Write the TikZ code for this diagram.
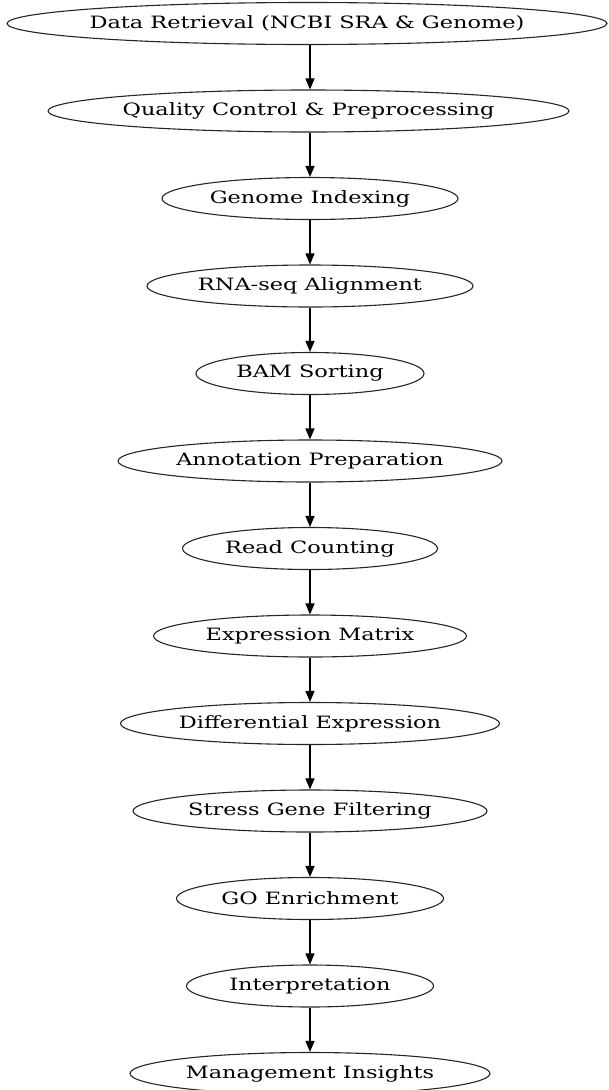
\documentclass[tikz,border=0pt]{standalone}
\usepackage{fontspec}
\setmainfont[FakeStretch=1.32]{DejaVu Serif}
\usetikzlibrary{shapes.geometric,arrows.meta}
\newcommand{\zlbl}[1]{\makebox[0pt]{#1}}
\begin{document}
\begin{tikzpicture}[x=1pt,y=-1pt,
  proc/.style={ellipse,draw=black!85,line width=1.1pt,inner sep=0pt,minimum height=42pt,font=\fontsize{17}{20}\selectfont},
  flow/.style={draw=black,line width=1.2pt,-{Triangle[length=11pt,width=9pt]}}]
\useasboundingbox (0,0) rectangle (608,1090);
\def\dy{87.5}
\node[proc,minimum width=600pt] (n1) at (307,23.5) {\zlbl{Data Retrieval (NCBI SRA \& Genome)}};
\node[proc,minimum width=521pt] (n2) at (308.5,{23.5+\dy}) {\zlbl{Quality Control \& Preprocessing}};
\node[proc,minimum width=296pt] (n3) at (310,{23.5+2*\dy}) {\zlbl{Genome Indexing}};
\node[proc,minimum width=326pt] (n4) at (310,{23.5+3*\dy}) {\zlbl{RNA-seq Alignment}};
\node[proc,minimum width=228pt] (n5) at (310,{23.5+4*\dy}) {\zlbl{BAM Sorting}};
\node[proc,minimum width=384pt] (n6) at (310,{23.5+5*\dy}) {\zlbl{Annotation Preparation}};
\node[proc,minimum width=255pt] (n7) at (310,{23.5+6*\dy}) {\zlbl{Read Counting}};
\node[proc,minimum width=313pt] (n8) at (310,{23.5+7*\dy}) {\zlbl{Expression Matrix}};
\node[proc,minimum width=379pt] (n9) at (310,{23.5+8*\dy}) {\zlbl{Differential Expression}};
\node[proc,minimum width=354pt] (n10) at (310,{23.5+9*\dy}) {\zlbl{Stress Gene Filtering}};
\node[proc,minimum width=267pt] (n11) at (310,{23.5+10*\dy}) {\zlbl{GO Enrichment}};
\node[proc,minimum width=247pt] (n12) at (310,{23.5+11*\dy}) {\zlbl{Interpretation}};
\node[proc,minimum width=360pt] (n13) at (310,{23.5+12*\dy}) {\zlbl{Management Insights}};
\foreach \a/\b in {n1/n2,n2/n3,n3/n4,n4/n5,n5/n6,n6/n7,n7/n8,n8/n9,n9/n10,n10/n11,n11/n12,n12/n13}
  \draw[flow] (\a.south -| n3.center) -- (\b.north -| n3.center);
\end{tikzpicture}
\end{document}
